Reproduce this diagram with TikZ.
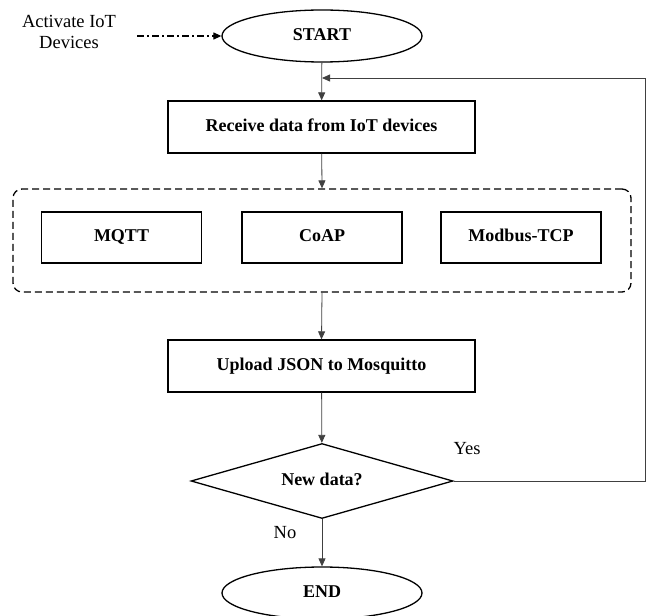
\documentclass[tikz,border=0pt]{standalone}
\usepackage{fontspec}
\setmainfont{Liberation Serif}
\usetikzlibrary{arrows.meta,shapes.geometric}
\begin{document}
\begin{tikzpicture}[x=1pt,y=-1pt,
  txt/.style={font=\fontsize{18.5}{21}\selectfont},
  btxt/.style={font=\fontsize{18}{20}\selectfont\bfseries,text height=12pt,text depth=3.5pt},
  box/.style={draw=black,line width=1.3pt,minimum width=307pt,minimum height=52pt,inner sep=0pt,btxt},
  proto/.style={box,minimum width=160pt,minimum height=51pt},
  term/.style={ellipse,draw=black,line width=1.3pt,minimum width=200pt,minimum height=52pt,inner sep=0pt,btxt},
  dec/.style={diamond,aspect=3.5,draw=black,line width=1.3pt,minimum width=262pt,minimum height=75pt,inner sep=0pt,btxt},
  group/.style={draw=black,line width=1.3pt,dash pattern=on 7pt off 4pt,rounded corners=9pt,minimum width=618pt,minimum height=103pt,inner sep=0pt},
  conn/.style={draw=black!75,line width=0.8pt,-{Triangle[length=8pt,width=7pt]}},
  lbl/.style={txt,align=center,inner sep=0pt}
]
\useasboundingbox (0,0) rectangle (647,615);
\fill[white] (0,0) rectangle (647,615);

\node[term] (start) at (322,36) {START};
\node[lbl] (act) at (69,32) {Activate IoT\\Devices};
\coordinate (actend) at (137,36);
\node[box] (recv) at (321.5,127) {Receive data from IoT devices};
\node[proto] (mqtt) at (121.5,237.5) {MQTT};
\node[proto] (coap) at (322,237.5) {CoAP};
\node[proto] (modbus) at (521,237.5) {Modbus-TCP};
\node[group] (grp) at (322,240.5) {};
\node[box] (upl) at (321.5,366) {Upload JSON to Mosquitto};
\node[dec] (dec) at (322,481) {New data?};
\node[term] (end) at (322,593) {END};
\node[lbl] (yes) at (467,449) {Yes};
\node[lbl] (no) at (285,533) {No};
\coordinate (r1) at (645,481);
\coordinate (r2) at (645,78);
\coordinate (m) at (322,78);

\draw[conn,draw=black,line width=1.2pt,dash pattern=on 7pt off 3pt on 2pt off 3pt] (actend) -- (start.west);
\draw[conn] (start) -- (recv);
\draw[conn] (recv) -- (grp.north);
\draw[conn] (grp.south) -- (upl.north);
\draw[conn] (upl) -- (dec);
\draw[conn] (dec) -- (end);
\draw[conn] (dec.east) -- (r1) -- (r2) -- (m);
\end{tikzpicture}
\end{document}
